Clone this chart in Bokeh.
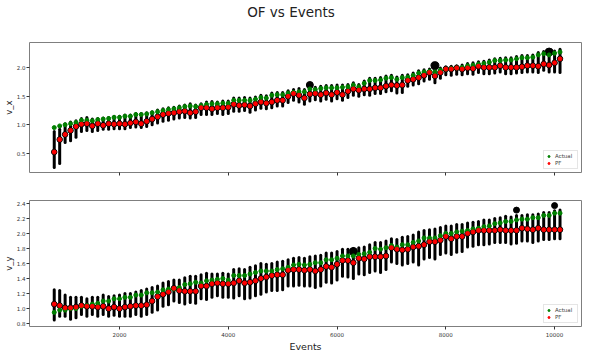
from bokeh.plotting import figure
from bokeh.layouts import column
from bokeh.models import FixedTicker, Range1d, CustomJSTickFormatter, Div
from bokeh.embed import file_html
from bokeh.resources import INLINE

FONT = "DejaVu Sans"
TITLE = "OF vs Events"

events = [
    800, 900, 1000, 1100, 1200, 1300, 1400, 1500, 1600, 1700,
    1800, 1900, 2000, 2100, 2200, 2300, 2400, 2500, 2600, 2700,
    2800, 2900, 3000, 3100, 3200, 3300, 3400, 3500, 3600, 3700,
    3800, 3900, 4000, 4100, 4200, 4300, 4400, 4500, 4600, 4700,
    4800, 4900, 5000, 5100, 5200, 5300, 5400, 5500, 5600, 5700,
    5800, 5900, 6000, 6100, 6200, 6300, 6400, 6500, 6600, 6700,
    6800, 6900, 7000, 7100, 7200, 7300, 7400, 7500, 7600, 7700,
    7800, 7900, 8000, 8100, 8200, 8300, 8400, 8500, 8600, 8700,
    8800, 8900, 9000, 9100, 9200, 9300, 9400, 9500, 9600, 9700,
    9800, 9900, 10000, 10100,
]

# ---- v_x panel ----
vx_actual = [
    0.95, 0.98, 1.00, 1.02, 1.04, 1.08, 1.08, 1.07, 1.09, 1.10,
    1.11, 1.13, 1.13, 1.15, 1.15, 1.18, 1.18, 1.19, 1.21, 1.23,
    1.25, 1.27, 1.28, 1.30, 1.32, 1.33, 1.32, 1.34, 1.36, 1.37,
    1.37, 1.38, 1.38, 1.43, 1.43, 1.43, 1.43, 1.45, 1.48, 1.47,
    1.52, 1.53, 1.53, 1.56, 1.57, 1.58, 1.58, 1.63, 1.62, 1.64,
    1.65, 1.65, 1.65, 1.66, 1.67, 1.70, 1.67, 1.73, 1.78, 1.78,
    1.79, 1.82, 1.83, 1.80, 1.83, 1.84, 1.87, 1.91, 1.93, 1.94,
    1.93, 1.96, 1.98, 1.99, 2.00, 2.01, 2.04, 2.05, 2.07, 2.08,
    2.10, 2.13, 2.13, 2.14, 2.14, 2.16, 2.18, 2.18, 2.19, 2.23,
    2.25, 2.23, 2.26, 2.28,
]
vx_pf = [
    0.52, 0.74, 0.83, 0.90, 0.97, 1.01, 1.02, 0.98, 1.02, 0.99,
    1.02, 1.01, 1.02, 1.01, 1.03, 1.05, 1.02, 1.06, 1.10, 1.14,
    1.18, 1.20, 1.21, 1.23, 1.24, 1.21, 1.23, 1.30, 1.30, 1.28,
    1.30, 1.30, 1.31, 1.36, 1.34, 1.35, 1.33, 1.37, 1.40, 1.38,
    1.40, 1.43, 1.43, 1.50, 1.55, 1.52, 1.47, 1.54, 1.55, 1.53,
    1.56, 1.53, 1.57, 1.53, 1.59, 1.63, 1.61, 1.63, 1.63, 1.65,
    1.65, 1.68, 1.70, 1.69, 1.70, 1.78, 1.80, 1.83, 1.87, 1.92,
    1.86, 1.92, 1.98, 1.98, 2.00, 1.98, 2.00, 1.99, 2.03, 2.01,
    2.01, 2.01, 2.04, 2.01, 2.01, 2.01, 2.02, 2.04, 2.04, 2.03,
    2.07, 2.05, 2.09, 2.16,
]
vx_lo = [
    0.25, 0.32, 0.69, 0.72, 0.78, 0.88, 0.90, 0.88, 0.90, 0.92,
    0.92, 0.93, 0.93, 0.93, 0.95, 0.96, 0.95, 0.97, 1.00, 1.03,
    1.06, 1.08, 1.10, 1.12, 1.13, 1.12, 1.13, 1.18, 1.18, 1.18,
    1.20, 1.18, 1.20, 1.24, 1.24, 1.25, 1.22, 1.26, 1.29, 1.28,
    1.30, 1.33, 1.33, 1.39, 1.43, 1.40, 1.36, 1.42, 1.44, 1.42,
    1.45, 1.42, 1.46, 1.43, 1.48, 1.52, 1.50, 1.53, 1.52, 1.55,
    1.55, 1.58, 1.60, 1.56, 1.57, 1.68, 1.70, 1.72, 1.77, 1.80,
    1.74, 1.82, 1.88, 1.87, 1.89, 1.88, 1.90, 1.89, 1.92, 1.90,
    1.90, 1.91, 1.93, 1.90, 1.90, 1.91, 1.92, 1.93, 1.93, 1.92,
    1.96, 1.93, 1.93, 1.92,
]
vx_hi = [
    0.88, 0.92, 1.02, 1.05, 1.07, 1.11, 1.13, 1.10, 1.11, 1.12,
    1.13, 1.15, 1.15, 1.17, 1.17, 1.20, 1.20, 1.21, 1.23, 1.26,
    1.28, 1.30, 1.31, 1.33, 1.35, 1.37, 1.35, 1.37, 1.40, 1.41,
    1.40, 1.42, 1.42, 1.47, 1.47, 1.48, 1.47, 1.49, 1.52, 1.51,
    1.56, 1.57, 1.57, 1.60, 1.62, 1.64, 1.62, 1.67, 1.66, 1.68,
    1.69, 1.69, 1.70, 1.70, 1.71, 1.74, 1.71, 1.77, 1.82, 1.82,
    1.83, 1.86, 1.87, 1.84, 1.87, 1.88, 1.91, 1.95, 1.97, 1.98,
    1.98, 2.00, 2.02, 2.03, 2.04, 2.05, 2.08, 2.09, 2.11, 2.12,
    2.14, 2.16, 2.17, 2.18, 2.18, 2.20, 2.22, 2.22, 2.23, 2.27,
    2.29, 2.27, 2.30, 2.33,
]
vx_out_events = [5500, 7800, 9900]
vx_out_values = [1.70, 2.04, 2.28]
vx_out_sizes = [7, 8, 8]

# ---- v_y panel ----
vy_actual = [
    0.95, 0.98, 0.98, 1.00, 1.00, 1.03, 1.04, 1.06, 1.07, 1.10,
    1.10, 1.13, 1.13, 1.15, 1.15, 1.18, 1.18, 1.21, 1.21, 1.22,
    1.25, 1.26, 1.26, 1.28, 1.32, 1.33, 1.35, 1.34, 1.37, 1.38,
    1.39, 1.40, 1.38, 1.44, 1.44, 1.44, 1.46, 1.48, 1.50, 1.50,
    1.50, 1.52, 1.53, 1.55, 1.58, 1.59, 1.58, 1.59, 1.61, 1.61,
    1.65, 1.65, 1.67, 1.70, 1.70, 1.70, 1.72, 1.73, 1.75, 1.80,
    1.79, 1.81, 1.84, 1.82, 1.85, 1.85, 1.88, 1.90, 1.94, 1.94,
    1.94, 1.97, 2.00, 2.00, 2.02, 2.03, 2.04, 2.06, 2.07, 2.09,
    2.10, 2.13, 2.14, 2.16, 2.16, 2.18, 2.19, 2.19, 2.21, 2.21,
    2.24, 2.24, 2.27, 2.27,
]
vy_pf = [
    1.06, 1.04, 1.01, 1.01, 1.02, 1.04, 1.03, 1.03, 1.02, 1.03,
    1.00, 1.02, 1.00, 1.02, 1.03, 1.04, 1.04, 1.05, 1.10, 1.16,
    1.19, 1.22, 1.27, 1.24, 1.23, 1.23, 1.23, 1.30, 1.30, 1.33,
    1.34, 1.33, 1.33, 1.34, 1.37, 1.34, 1.35, 1.37, 1.40, 1.42,
    1.44, 1.45, 1.45, 1.51, 1.52, 1.52, 1.51, 1.52, 1.50, 1.52,
    1.56, 1.55, 1.59, 1.64, 1.64, 1.61, 1.67, 1.66, 1.69, 1.69,
    1.69, 1.70, 1.81, 1.79, 1.78, 1.79, 1.82, 1.83, 1.85, 1.89,
    1.89, 1.91, 1.96, 1.93, 1.96, 1.96, 2.00, 2.02, 2.04, 2.04,
    2.04, 2.04, 2.05, 2.04, 2.04, 2.04, 2.07, 2.06, 2.05, 2.07,
    2.05, 2.05, 2.05, 2.05,
]
vy_lo = [
    0.85, 0.90, 0.90, 0.86, 0.88, 0.92, 0.90, 0.92, 0.90, 0.92,
    0.90, 0.91, 0.90, 0.90, 0.90, 0.92, 0.90, 0.92, 0.95, 0.98,
    1.03, 1.05, 1.10, 1.08, 1.06, 1.08, 1.07, 1.13, 1.12, 1.15,
    1.17, 1.15, 1.15, 1.14, 1.17, 1.13, 1.14, 1.17, 1.19, 1.22,
    1.24, 1.24, 1.25, 1.30, 1.30, 1.31, 1.30, 1.30, 1.28, 1.30,
    1.35, 1.34, 1.38, 1.43, 1.42, 1.40, 1.46, 1.45, 1.48, 1.50,
    1.48, 1.52, 1.62, 1.60, 1.58, 1.60, 1.62, 1.58, 1.66, 1.68,
    1.66, 1.72, 1.74, 1.72, 1.75, 1.76, 1.82, 1.83, 1.85, 1.85,
    1.86, 1.88, 1.88, 1.88, 1.86, 1.87, 1.90, 1.90, 1.88, 1.90,
    1.92, 1.92, 1.93, 1.93,
]
vy_hi = [
    1.25, 1.24, 1.18, 1.15, 1.15, 1.15, 1.13, 1.15, 1.15, 1.18,
    1.16, 1.17, 1.18, 1.20, 1.20, 1.22, 1.24, 1.26, 1.28, 1.30,
    1.34, 1.36, 1.38, 1.38, 1.41, 1.43, 1.43, 1.45, 1.47, 1.46,
    1.46, 1.47, 1.46, 1.52, 1.53, 1.52, 1.55, 1.57, 1.60, 1.59,
    1.60, 1.62, 1.63, 1.65, 1.67, 1.68, 1.67, 1.69, 1.70, 1.71,
    1.74, 1.74, 1.76, 1.79, 1.79, 1.80, 1.81, 1.82, 1.85, 1.88,
    1.88, 1.90, 1.93, 1.92, 1.95, 1.96, 1.98, 2.02, 2.04, 2.05,
    2.06, 2.08, 2.10, 2.10, 2.12, 2.12, 2.14, 2.15, 2.16, 2.18,
    2.18, 2.20, 2.21, 2.23, 2.22, 2.24, 2.24, 2.25, 2.25, 2.26,
    2.28, 2.28, 2.30, 2.31,
]
vy_out_events = [6300, 9300, 10000]
vy_out_values = [1.76, 2.31, 2.37]
vy_out_sizes = [8, 6, 6]

x_ticks = [2000, 4000, 6000, 8000, 10000]
x_tick_labels = ["2000", "4000", "6000", "8000", "10000"]
vx_ticks = [0.5, 1.0, 1.5, 2.0]
vx_tick_labels = ["0.5", "1.0", "1.5", "2.0"]
vy_ticks = [0.8, 1.0, 1.2, 1.4, 1.6, 1.8, 2.0, 2.2, 2.4]
vy_tick_labels = ["0.8", "1.0", "1.2", "1.4", "1.6", "1.8", "2.0", "2.2", "2.4"]

TICK = "#333333"


def panel(height, top, bottom, y_range, ylabel, yt, ytl, actual, pf, lo, hi,
          oe, ov, osz, show_x):
    p = figure(width=582, height=height, x_range=Range1d(345, 10495),
               y_range=Range1d(*y_range), output_backend="svg",
               toolbar_location=None, min_border_left=20, min_border_right=1,
               min_border_top=top, min_border_bottom=bottom, title=None)
    p.background_fill_color = "white"
    p.border_fill_color = "white"
    p.outline_line_color = "#7f7f7f"
    p.outline_line_width = 1
    p.grid.visible = False

    p.segment(x0=events, y0=lo, x1=events, y1=hi, line_width=3,
              line_color="black", line_cap="round")
    p.scatter(x=events, y=pf, size=5.5, color="black")
    p.scatter(x=oe, y=ov, size=osz, color="black")
    p.scatter(x=events, y=actual, size=4, color="green", legend_label="Actual")
    p.scatter(x=events, y=pf, size=4, color="red", legend_label="PF")

    for ax in (p.xaxis[0], p.yaxis[0]):
        ax.axis_line_color = None
        ax.major_tick_line_color = TICK
        ax.major_tick_out = 3
        ax.major_tick_in = 0
        ax.minor_tick_line_color = None
        ax.major_label_text_font = FONT
        ax.major_label_text_font_size = "5.5px"
        ax.major_label_text_color = TICK
        ax.major_label_standoff = 1
        ax.axis_label_text_font = FONT
        ax.axis_label_text_font_style = "normal"
        ax.axis_label_text_color = "#222222"
        ax.axis_label_standoff = 0

    p.yaxis.ticker = FixedTicker(ticks=yt)
    p.yaxis.major_label_overrides = dict(zip(yt, ytl))
    p.yaxis.axis_label = ylabel
    p.yaxis.axis_label_text_font_size = "8.5px"

    p.xaxis.ticker = FixedTicker(ticks=x_ticks)
    if show_x:
        p.xaxis.major_label_overrides = dict(zip(x_ticks, x_tick_labels))
        p.xaxis.major_label_standoff = 2
        p.xaxis.axis_label = "Events"
        p.xaxis.axis_label_text_font_size = "9.5px"
        p.xaxis.axis_label_standoff = 1
    else:
        p.xaxis.formatter = CustomJSTickFormatter(code="return ''")
        p.xaxis.major_label_standoff = 0

    lg = p.legend[0]
    lg.location = "bottom_right"
    lg.label_text_font = FONT
    lg.label_text_font_size = "5.5px"
    lg.label_height = 6
    lg.glyph_height = 6
    lg.glyph_width = 5
    lg.padding = 2
    lg.spacing = 1
    lg.margin = 3
    lg.label_standoff = 4
    lg.border_line_color = "#cccccc"
    lg.background_fill_alpha = 0.8
    return p


title_div = Div(text=TITLE, width=582, height=22, margin=(0, 0, 0, 0),
                styles={"font-family": FONT, "font-size": "13.5px",
                        "color": "#222222", "text-align": "center",
                        "line-height": "16px", "padding-top": "4px",
                        "box-sizing": "border-box", "width": "582px"})

p1 = panel(158, 20, 8, (0.16, 2.448), "v_x", vx_ticks, vx_tick_labels,
           vx_actual, vx_pf, vx_lo, vx_hi,
           vx_out_events, vx_out_values, vx_out_sizes, False)

p2 = panel(174, 20, 24, (0.762, 2.438), "v_y", vy_ticks, vy_tick_labels,
           vy_actual, vy_pf, vy_lo, vy_hi,
           vy_out_events, vy_out_values, vy_out_sizes, True)

layout = column(title_div, p1, p2, spacing=0)
open("out.html", "w").write(file_html(layout, INLINE, title=TITLE))
